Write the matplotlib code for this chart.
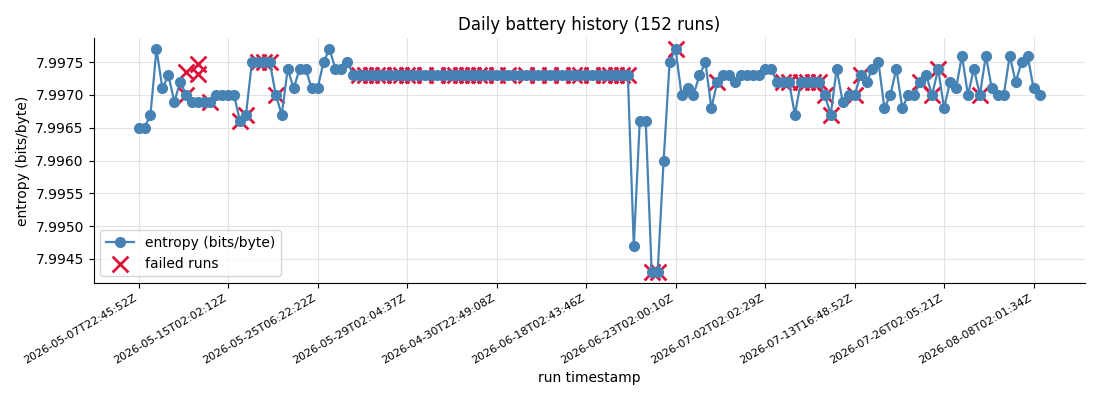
import numpy as np
import matplotlib
matplotlib.use("Agg")
import matplotlib.pyplot as plt
from matplotlib.ticker import FormatStrFormatter

# entropy per run, in run order (152 runs)
entropy_head = [7.9965, 7.9965, 7.9967, 7.9977, 7.9971, 7.9973, 7.9969, 7.9972,
                7.9970, 7.9969, 7.9969, 7.9969, 7.9969, 7.9970, 7.9970, 7.9970,
                7.9970, 7.9966, 7.9967, 7.9975, 7.9975, 7.9975, 7.9975, 7.9970,
                7.9967, 7.9974, 7.9971, 7.9974, 7.9974, 7.9971, 7.9971, 7.9975,
                7.9977, 7.9974, 7.9974, 7.9975]
entropy_flat = [7.9973] * 47
entropy_tail = [7.9947, 7.9966, 7.9966, 7.9943, 7.9943, 7.9960, 7.9975, 7.9977,
                7.9970, 7.9971, 7.9970, 7.9973, 7.9975, 7.9968, 7.9972, 7.9973,
                7.9973, 7.9972, 7.9973, 7.9973, 7.9973, 7.9973, 7.9974, 7.9974,
                7.9972, 7.9972, 7.9972, 7.9967, 7.9972, 7.9972, 7.9972, 7.9972,
                7.9970, 7.9967, 7.9974, 7.9969, 7.9970, 7.9970, 7.9973, 7.9972,
                7.9974, 7.9975, 7.9968, 7.9970, 7.9974, 7.9968, 7.9970, 7.9970,
                7.9972, 7.9973, 7.9970, 7.9974, 7.9968, 7.9972, 7.9971, 7.9976,
                7.9970, 7.9974, 7.9970, 7.9976, 7.9971, 7.9970, 7.9970, 7.9976,
                7.9972, 7.9975, 7.9976, 7.9971, 7.9970]
entropy = entropy_head + entropy_flat + entropy_tail

# failed runs: run index and plotted value
failed_idx = [8, 8, 10, 10, 12, 17, 18, 20, 21, 22, 23,
              37, 38, 39, 40, 41, 43, 44, 45, 46, 48, 50, 52, 53, 54, 55, 56,
              57, 58, 60, 62, 65, 67, 69, 71, 73, 74, 76, 78, 79, 80, 81, 82,
              86, 87, 90, 97, 108, 109, 111, 112, 113, 114, 115, 116, 120, 121,
              131, 133, 134, 141]
failed_val = [7.9970, 7.99735, 7.99748, 7.99732, 7.9969, 7.9966, 7.9967,
              7.9975, 7.9975, 7.9975, 7.9970] + [7.9973] * 32 + \
             [7.9943, 7.9943, 7.9977, 7.9972, 7.9972, 7.9972, 7.9972, 7.9972,
              7.9972, 7.9972, 7.9970, 7.9967, 7.9970, 7.9973, 7.9972, 7.9970,
              7.9974, 7.9970]

tick_pos = [0, 15, 30, 45, 60, 75, 90, 105, 120, 135, 150]
tick_labels = ["2026-05-07T22:45:52Z", "2026-05-15T02:02:12Z", "2026-05-25T06:22:22Z",
               "2026-05-29T02:04:37Z", "2026-04-30T22:49:08Z", "2026-06-18T02:43:46Z",
               "2026-06-23T02:00:10Z", "2026-07-02T02:02:29Z", "2026-07-13T16:48:52Z",
               "2026-07-26T02:05:21Z", "2026-08-08T02:01:34Z"]

fig, ax = plt.subplots(figsize=(11, 4), dpi=100)
x = np.arange(len(entropy))
ax.plot(x, entropy, color="steelblue", marker="o", markersize=7, linewidth=1.6,
        label="entropy (bits/byte)")
ax.scatter(failed_idx, failed_val, marker="x", color="crimson", s=130,
           linewidths=2, label="failed runs")

ax.set_title("Daily battery history (152 runs)")
ax.set_xlabel("run timestamp")
ax.set_ylabel("entropy (bits/byte)")
ax.set_xticks(tick_pos)
ax.set_xticklabels(tick_labels, rotation=30, ha="right", fontsize=8)
ax.yaxis.set_major_formatter(FormatStrFormatter("%.4f"))
ax.grid(True, color="#dddddd", linewidth=0.8, alpha=0.8)
ax.set_axisbelow(True)
ax.spines["top"].set_visible(False)
ax.spines["right"].set_visible(False)
ax.legend(loc="lower left")

fig.subplots_adjust(left=0.085, right=0.986, top=0.905, bottom=0.2925)
fig.savefig("out.png")
